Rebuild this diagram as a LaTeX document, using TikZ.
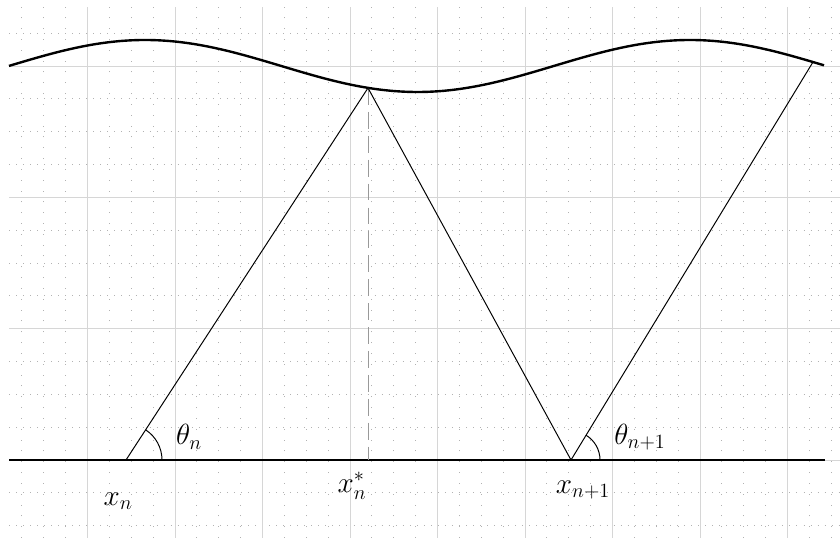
\documentclass[tikz,border=0pt]{standalone}
\usepackage{amsmath}
\usepackage{tikz}
\usetikzlibrary{calc,positioning}
\tikzset{
    gridmajor/.style={draw=black!16,line width=0.7pt},
    griddotsh/.style={draw=black!30,line width=0.7pt,dash pattern=on 0.7pt off 4.3pt},
    griddotsv/.style={draw=black!30,line width=0.7pt,dash pattern=on 0.7pt off 7pt},
    mywave/.style={line width=1.7pt,draw=black},
    myfloor/.style={line width=1.3pt,draw=black},
    myray/.style={line width=0.7pt,draw=black},
    myangle/.style={line width=0.7pt,draw=black},
    myproj/.style={line width=0.7pt,draw=black!40,dash pattern=on 12pt off 5pt},
    every node/.style={font=\fontsize{21}{24}\selectfont}
}

\begin{document}
\begin{tikzpicture}[x=0.025cm,y=0.025cm]
  \useasboundingbox (0,0) rectangle (840,538);
  % grid
  \foreach \k in {1,...,38}{
    \draw[griddotsv] (21.875*\k,0) -- (21.875*\k,531);
  }
  \foreach \k in {-2,...,13}{
    \draw[griddotsh] (9,78+32.83*\k) -- (840,78+32.83*\k);
  }
  \foreach \k in {1,...,9}{
    \draw[gridmajor] (87.5*\k,0) -- (87.5*\k,531);
  }
  \foreach \k in {0,...,3}{
    \draw[gridmajor] (9,78+131.33*\k) -- (840,78+131.33*\k);
  }

  \coordinate (L) at (9,78);
  \coordinate (R) at (825,78);
  \coordinate (Xn) at (126,78);
  \coordinate (Xs) at (368,78);
  \coordinate (Xm) at (571,78);
  \coordinate (P) at (368,450);
  \coordinate (Q) at (813,476);

  \draw[mywave] plot[domain=9:824,samples=120,smooth] (\x,{472+26*cos(0.66055*(\x-145))});
  \draw[myfloor] (L) -- (R);
  \draw[myproj] (P) -- (Xs);
  \draw[myray] (Xn) -- (P) -- (Xm) -- (Q);
  \draw[myangle] ($(Xn)+(36,0)$) arc[start angle=0,end angle=57,radius=36];
  \draw[myangle] ($(Xm)+(29,0)$) arc[start angle=0,end angle=58.7,radius=29];

  \node (thn) at (189,101) {$\theta_n$};
  \node (thm) at (640,101) {$\theta_{n+1}$};
  \node (xn) at (118,37) {$x_n$};
  \node (xs) at (352,52) {$x_n^{*}$};
  \node (xm) at (583,48) {$x_{n+1}$};
\end{tikzpicture}
\end{document}
